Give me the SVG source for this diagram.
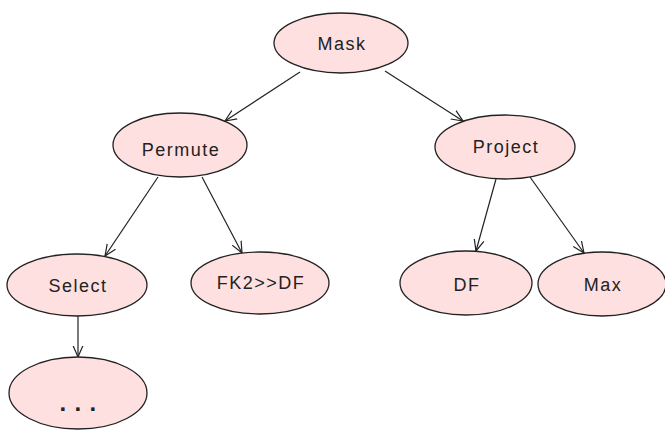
<svg xmlns="http://www.w3.org/2000/svg" width="665" height="432" viewBox="0 0 665 432">
  <style>
    .node ellipse { fill: #ffe0e0; stroke: #222; stroke-width: 1.3; }
    .node text { font-family: "Liberation Sans", Arial, sans-serif; font-size: 18px; letter-spacing: 1.5px; fill: #222; text-anchor: middle; }
    .node text.dots { font-weight: bold; font-size: 24px; letter-spacing: 8.3px; text-anchor: start; }
    .edges line { stroke: #222; stroke-width: 1.2; marker-end: url(#arrow); }
  </style>
  <defs>
    <marker id="arrow" viewBox="0 0 12 12" refX="11.5" refY="6" markerWidth="12" markerHeight="12" markerUnits="userSpaceOnUse" orient="auto">
      <polyline points="0,1 11.5,6 0,11" fill="none" stroke="#222" stroke-width="1.2"/>
    </marker>
  </defs>
  <rect width="665" height="432" fill="#ffffff"/>

  <g class="edges">
    <line x1="300" y1="72" x2="225" y2="121"/>
    <line x1="385" y1="71" x2="463" y2="121"/>
    <line x1="158" y1="177" x2="105" y2="256"/>
    <line x1="202" y1="177" x2="242" y2="253"/>
    <line x1="496" y1="179" x2="476" y2="251"/>
    <line x1="530" y1="177" x2="584" y2="253"/>
    <line x1="78" y1="316" x2="78" y2="357"/>
  </g>

  <g id="mask" class="node">
    <ellipse cx="341" cy="43" rx="67" ry="30"/>
    <text x="342" y="50">Mask</text>
  </g>
  <g id="permute" class="node">
    <ellipse cx="180" cy="145" rx="67" ry="32"/>
    <text x="181" y="156">Permute</text>
  </g>
  <g id="project" class="node">
    <ellipse cx="505" cy="147" rx="70" ry="32"/>
    <text x="506" y="153">Project</text>
  </g>
  <g id="select" class="node">
    <ellipse cx="77" cy="285" rx="70" ry="31"/>
    <text x="78" y="292">Select</text>
  </g>
  <g id="fk2-df" class="node">
    <ellipse cx="260" cy="283" rx="69" ry="31"/>
    <text x="261" y="289">FK2&gt;&gt;DF</text>
  </g>
  <g id="df" class="node">
    <ellipse cx="466" cy="283" rx="66" ry="32"/>
    <text x="467" y="291">DF</text>
  </g>
  <g id="max" class="node">
    <ellipse cx="602" cy="284" rx="64" ry="32"/>
    <text x="603" y="291">Max</text>
  </g>
  <g id="more" class="node">
    <ellipse cx="78" cy="393" rx="69" ry="36"/>
    <text class="dots" x="59.6" y="411">...</text>
  </g>
</svg>
